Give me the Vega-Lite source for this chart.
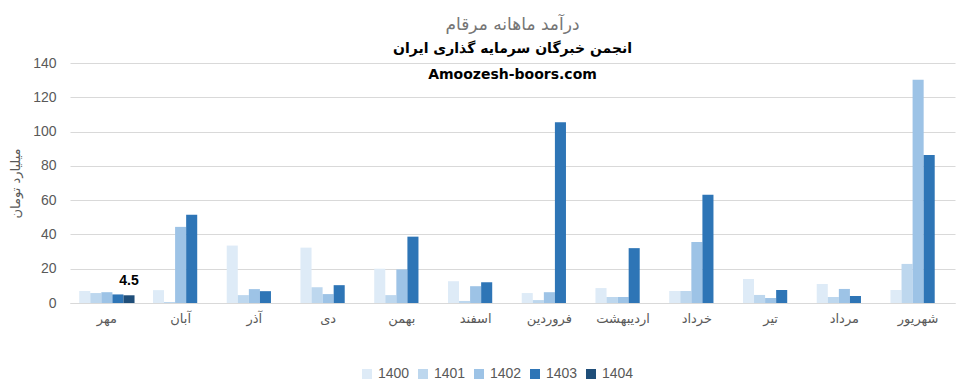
{
  "$schema": "https://vega.github.io/schema/vega-lite/v6.json",
  "width": 885,
  "height": 240,
  "autosize": {"type": "none"},
  "padding": {"left": 70, "top": 63, "right": 23, "bottom": 89},
  "background": "white",
  "title": {
    "text": "درآمد ماهانه مرقام",
    "subtitle": ["انجمن خبرگان سرمایه گذاری ایران", "Amoozesh-boors.com"],
    "anchor": "middle",
    "font": "DejaVu Sans",
    "fontSize": 17,
    "fontWeight": "normal",
    "color": "#757575",
    "subtitleFont": "DejaVu Sans",
    "subtitleFontSize": 14,
    "subtitleFontWeight": "bold",
    "subtitleColor": "#000000",
    "subtitleLineHeight": 26,
    "subtitlePadding": 8,
    "offset": -27
  },
  "data": {
    "values": [
      {"month": "مهر", "year": "1400", "value": 7},
      {"month": "مهر", "year": "1401", "value": 5.8},
      {"month": "مهر", "year": "1402", "value": 6.3},
      {"month": "مهر", "year": "1403", "value": 5},
      {"month": "مهر", "year": "1404", "value": 4.5},
      {"month": "آبان", "year": "1400", "value": 7.5},
      {"month": "آبان", "year": "1401", "value": 0.6},
      {"month": "آبان", "year": "1402", "value": 44.4},
      {"month": "آبان", "year": "1403", "value": 51.5},
      {"month": "آذر", "year": "1400", "value": 33.5},
      {"month": "آذر", "year": "1401", "value": 4.6},
      {"month": "آذر", "year": "1402", "value": 8.1},
      {"month": "آذر", "year": "1403", "value": 6.9},
      {"month": "دی", "year": "1400", "value": 32.3},
      {"month": "دی", "year": "1401", "value": 9.2},
      {"month": "دی", "year": "1402", "value": 5.2},
      {"month": "دی", "year": "1403", "value": 10.4},
      {"month": "بهمن", "year": "1400", "value": 20},
      {"month": "بهمن", "year": "1401", "value": 4.6},
      {"month": "بهمن", "year": "1402", "value": 19.6},
      {"month": "بهمن", "year": "1403", "value": 38.7},
      {"month": "اسفند", "year": "1400", "value": 12.7},
      {"month": "اسفند", "year": "1401", "value": 1.2},
      {"month": "اسفند", "year": "1402", "value": 9.8},
      {"month": "اسفند", "year": "1403", "value": 12.1},
      {"month": "فروردین", "year": "1400", "value": 5.8},
      {"month": "فروردین", "year": "1401", "value": 1.7},
      {"month": "فروردین", "year": "1402", "value": 6.3},
      {"month": "فروردین", "year": "1403", "value": 105.4},
      {"month": "اردیبهشت", "year": "1400", "value": 8.7},
      {"month": "اردیبهشت", "year": "1401", "value": 3.5},
      {"month": "اردیبهشت", "year": "1402", "value": 3.5},
      {"month": "اردیبهشت", "year": "1403", "value": 32},
      {"month": "خرداد", "year": "1400", "value": 7},
      {"month": "خرداد", "year": "1401", "value": 7},
      {"month": "خرداد", "year": "1402", "value": 35.6},
      {"month": "خرداد", "year": "1403", "value": 63.1},
      {"month": "تیر", "year": "1400", "value": 14},
      {"month": "تیر", "year": "1401", "value": 4.7},
      {"month": "تیر", "year": "1402", "value": 2.9},
      {"month": "تیر", "year": "1403", "value": 7.6},
      {"month": "مرداد", "year": "1400", "value": 11.1},
      {"month": "مرداد", "year": "1401", "value": 3.5},
      {"month": "مرداد", "year": "1402", "value": 8.2},
      {"month": "مرداد", "year": "1403", "value": 4.1},
      {"month": "شهریور", "year": "1400", "value": 7.6},
      {"month": "شهریور", "year": "1401", "value": 22.8},
      {"month": "شهریور", "year": "1402", "value": 130.3},
      {"month": "شهریور", "year": "1403", "value": 86.4}
    ]
  },
  "encoding": {
    "x": {
      "field": "month",
      "type": "nominal",
      "sort": ["مهر", "آبان", "آذر", "دی", "بهمن", "اسفند", "فروردین", "اردیبهشت", "خرداد", "تیر", "مرداد", "شهریور"],
      "scale": {"paddingInner": 0.25, "paddingOuter": 0.125},
      "axis": {
        "title": null,
        "labelAngle": 0,
        "labelFont": "DejaVu Sans",
        "labelFontSize": 13,
        "labelColor": "#595959",
        "labelPadding": 9,
        "ticks": false,
        "domainColor": "#d9d9d9",
        "grid": false
      }
    },
    "xOffset": {
      "field": "year",
      "type": "nominal",
      "scale": {"domain": ["1400", "1401", "1402", "1403", "1404"], "paddingInner": 0}
    },
    "y": {
      "field": "value",
      "type": "quantitative",
      "scale": {"domain": [0, 140]},
      "axis": {
        "title": "میلیارد تومان",
        "titleFont": "DejaVu Sans",
        "titleFontSize": 13,
        "titleFontWeight": "normal",
        "titleColor": "#595959",
        "titlePadding": 10,
        "values": [0, 20, 40, 60, 80, 100, 120, 140],
        "labelFont": "Liberation Sans",
        "labelFontSize": 14,
        "labelColor": "#595959",
        "labelPadding": 14,
        "ticks": false,
        "domain": false,
        "gridColor": "#d9d9d9"
      }
    }
  },
  "layer": [
    {
      "mark": {"type": "bar"},
      "encoding": {
        "color": {
          "field": "year",
          "type": "nominal",
          "scale": {
            "domain": ["1400", "1401", "1402", "1403", "1404"],
            "range": ["#deebf7", "#bdd7ee", "#9dc3e6", "#2e75b6", "#1f4e79"]
          },
          "legend": {
            "title": null,
            "orient": "none",
            "legendX": 290,
            "legendY": 304,
            "direction": "horizontal",
            "symbolType": "square",
            "symbolSize": 100,
            "symbolStrokeWidth": 0,
            "labelFont": "Liberation Sans",
            "labelFontSize": 14,
            "labelColor": "#595959",
            "columnPadding": 6
          }
        }
      }
    },
    {
      "transform": [{"filter": "datum.year == '1404'"}],
      "mark": {"type": "text", "baseline": "bottom", "dy": -7, "font": "Liberation Sans", "fontSize": 14, "fontWeight": "bold", "color": "#000000"},
      "encoding": {
        "text": {"field": "value", "type": "quantitative", "format": ".1f"}
      }
    }
  ],
  "config": {
    "view": {"stroke": null}
  }
}
